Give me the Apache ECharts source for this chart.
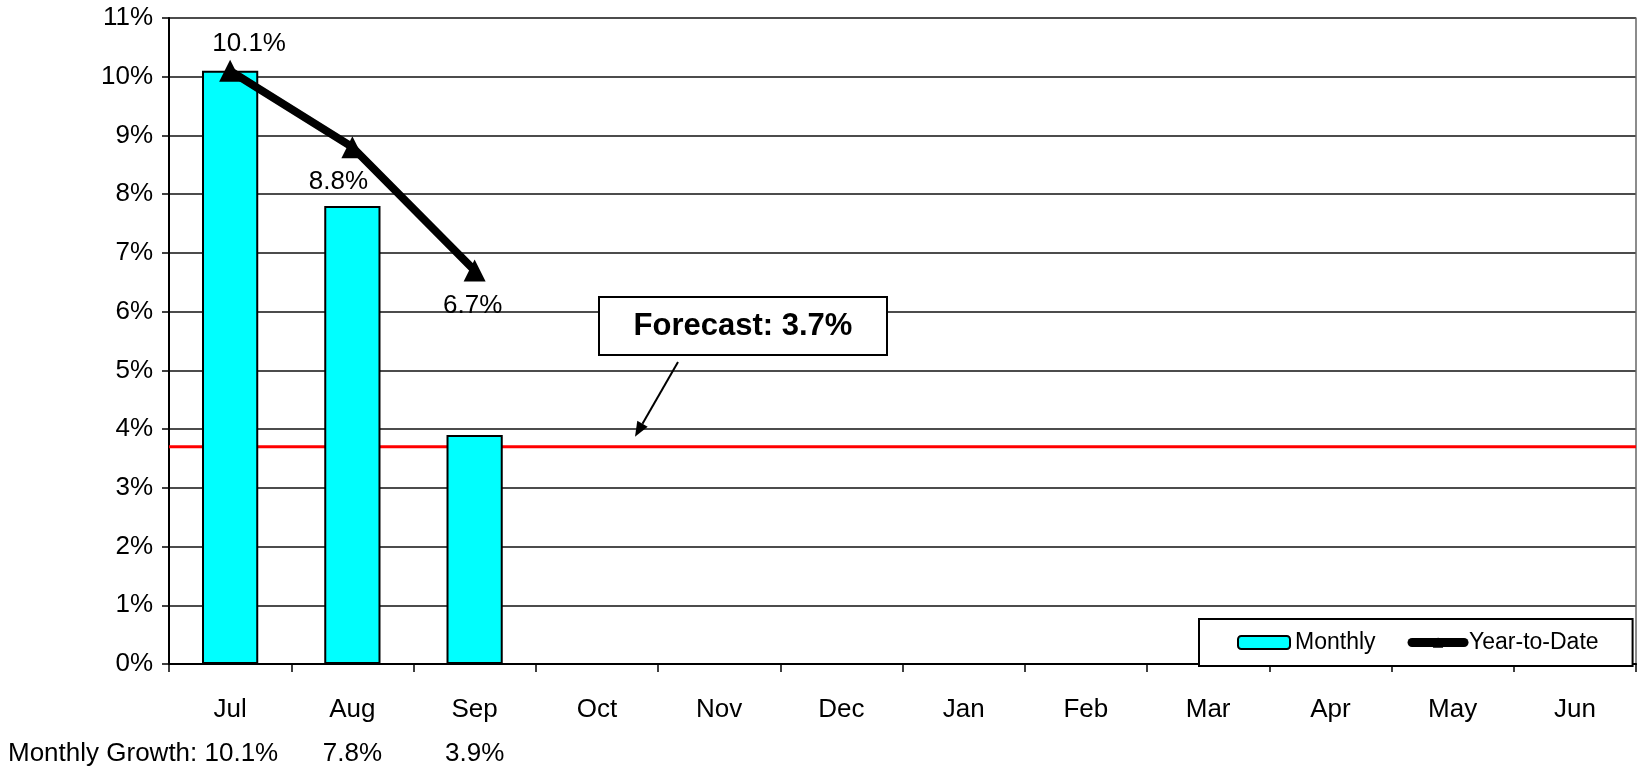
<!DOCTYPE html>
<html><head><meta charset="utf-8">
<script src="https://cdn.jsdelivr.net/npm/echarts@6/dist/echarts.min.js"></script>
<style>html,body{margin:0;padding:0;background:#fff}#c{width:1637px;height:770px}</style>
</head><body><div id="c"></div>
<script>
const categories = ['Jul','Aug','Sep','Oct','Nov','Dec','Jan','Feb','Mar','Apr','May','Jun'];
const monthly = [10.1, 7.8, 3.9];
const yearToDate = [10.1, 8.8, 6.7];
const forecast = 3.7;
const yMax = 11;
const yStep = 1;

const FONT = '"Liberation Sans", Arial, sans-serif';
const chart = echarts.init(document.getElementById('c'), null, {renderer: 'canvas'});

// label offsets for the YTD values (styling only)
const ytdLabelOffsets = [[19, -27], [-14, 35], [-2, 35]];
const ytdData = yearToDate.map((v, i) => ({
  value: v,
  label: {position: 'inside', offset: ytdLabelOffsets[i]}
}));

chart.setOption({
  animation: false,
  backgroundColor: '#fff',
  textStyle: {fontFamily: FONT, color: '#000'},
  grid: {left: 169, right: 1, top: 18, bottom: 106, containLabel: false},
  legend: {
    left: 1199, top: 619,
    backgroundColor: '#fff', borderColor: '#000', borderWidth: 2,
    padding: [12, 34, 12, 38], itemGap: 32, itemWidth: 52, itemHeight: 13,
    textStyle: {fontSize: 23, color: '#000', fontFamily: FONT},
    data: [
      {name: 'Monthly'},
      {name: 'Year-to-Date', lineStyle: {width: 9, cap: 'round', color: '#000'}}
    ],
    z: 20
  },
  xAxis: [{
    type: 'category', data: categories, boundaryGap: true,
    axisLine: {lineStyle: {color: '#000', width: 2}},
    axisTick: {show: true, interval: 0, length: 8, lineStyle: {color: '#000', width: 1.5}},
    axisLabel: {interval: 0, margin: 33, fontSize: 26, color: '#000', fontFamily: FONT}
  }, {
    type: 'value', min: 0, max: 1, show: false
  }],
  yAxis: [{
    type: 'value', min: 0, max: yMax, interval: yStep,
    axisLine: {show: true, lineStyle: {color: '#000', width: 2}},
    axisTick: {show: true, length: 7, lineStyle: {color: '#000', width: 1.5}},
    axisLabel: {formatter: '{value}%', fontSize: 26, margin: 16, color: '#000', fontFamily: FONT},
    splitLine: {show: true, lineStyle: {color: '#111', width: 1.5}}
  }, {
    type: 'value', min: 0, max: yMax, interval: yStep, position: 'right',
    axisLine: {show: true, lineStyle: {color: '#666', width: 1.5}},
    axisTick: {show: false}, axisLabel: {show: false}, splitLine: {show: false}
  }],
  series: [
    {
      name: 'Forecast', type: 'line', xAxisIndex: 1, yAxisIndex: 0,
      data: [[0, forecast], [1, forecast]],
      symbol: 'none', silent: true,
      lineStyle: {color: '#FF0000', width: 3},
      z: 1
    },
    {
      name: 'Monthly', type: 'bar', data: monthly, barWidth: '46%',
      itemStyle: {color: '#00FFFF', borderColor: '#000', borderWidth: 2, opacity: 1},
      z: 10
    },
    {
      name: 'Year-to-Date', type: 'line', data: ytdData,
      symbol: 'triangle', symbolSize: 22,
      lineStyle: {color: '#000', width: 8},
      itemStyle: {color: '#000'},
      label: {show: true, formatter: p => p.value.toFixed(1) + '%', fontSize: 26, color: '#000', fontFamily: FONT},
      z: 11
    }
  ]
});

// annotations and monthly growth row
const fy = chart.convertToPixel({gridIndex: 0}, [0, forecast])[1];
const tip = [635, fy - 10];
const start = [678, 362];
const dx = tip[0] - start[0], dy = tip[1] - start[1];
const len = Math.hypot(dx, dy);
const ux = dx / len, uy = dy / len;
const px = -uy, py = ux;
const hl = 15, hw = 6;
const bx = tip[0] - ux * hl, by = tip[1] - uy * hl;

const rowY = 754;
const graphics = [
  {type: 'rect', shape: {x: 599, y: 297, width: 288, height: 58}, style: {fill: '#fff', stroke: '#000', lineWidth: 2}, z: 20},
  {type: 'text', x: 743, y: 326, style: {text: 'Forecast: ' + forecast.toFixed(1) + '%', font: 'bold 31px ' + FONT, fill: '#000', align: 'center', verticalAlign: 'middle'}, z: 21},
  {type: 'line', shape: {x1: start[0], y1: start[1], x2: bx, y2: by}, style: {stroke: '#000', lineWidth: 2}, z: 20},
  {type: 'polygon', shape: {points: [tip, [bx + px * hw, by + py * hw], [bx - px * hw, by - py * hw]]}, style: {fill: '#000'}, z: 20},
  {type: 'text', x: 8, y: rowY, style: {text: 'Monthly Growth: ' + monthly[0].toFixed(1) + '%', font: '26px ' + FONT, fill: '#000', align: 'left', verticalAlign: 'middle'}, z: 20}
];
monthly.forEach((v, i) => {
  if (i === 0) return;
  const x = chart.convertToPixel({gridIndex: 0}, [i, 0])[0];
  graphics.push({type: 'text', x: x, y: rowY, style: {text: v.toFixed(1) + '%', font: '26px ' + FONT, fill: '#000', align: 'center', verticalAlign: 'middle'}, z: 20});
});
chart.setOption({graphic: graphics});
</script>
</body></html>
